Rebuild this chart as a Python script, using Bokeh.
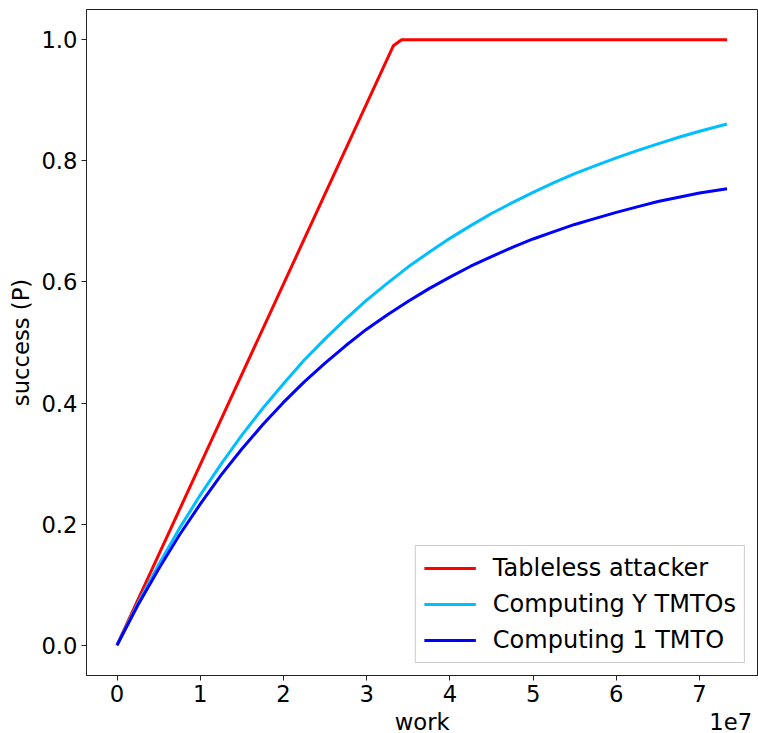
from bokeh.plotting import figure
from bokeh.models import Range1d, FixedTicker, NumeralTickFormatter
from bokeh.embed import file_html
from bokeh.resources import INLINE

# ---- data ----
red_work = [0.0, 3.32e7, 3.42e7, 7.33e7]
red_success = [0.0, 0.99, 1.0, 1.0]

curve_work = [0.0, 0.25e7, 0.5e7, 0.75e7, 1.0e7, 1.25e7, 1.5e7, 1.75e7, 2.0e7,
              2.25e7, 2.5e7, 2.75e7, 3.0e7, 3.25e7, 3.5e7, 3.75e7, 4.0e7,
              4.25e7, 4.5e7, 4.75e7, 5.0e7, 5.25e7, 5.5e7, 5.75e7, 6.0e7,
              6.25e7, 6.5e7, 6.75e7, 7.0e7, 7.33e7]
cyan_success = [0.0, 0.069, 0.133, 0.193, 0.248, 0.299, 0.347, 0.391, 0.432,
                0.471, 0.506, 0.539, 0.570, 0.598, 0.625, 0.649, 0.672,
                0.693, 0.713, 0.731, 0.748, 0.764, 0.779, 0.792, 0.805,
                0.817, 0.828, 0.839, 0.849, 0.861]
blue_success = [0.0, 0.066, 0.126, 0.182, 0.233, 0.281, 0.324, 0.364, 0.401,
                0.435, 0.466, 0.495, 0.522, 0.546, 0.568, 0.589, 0.608,
                0.626, 0.642, 0.657, 0.671, 0.683, 0.695, 0.705, 0.715,
                0.724, 0.733, 0.740, 0.747, 0.754]

series_names = ["Tableless attacker", "Computing Y TMTOs", "Computing 1 TMTO"]
x_tick_values = [0, 1e7, 2e7, 3e7, 4e7, 5e7, 6e7, 7e7]
x_tick_labels = ["0", "1", "2", "3", "4", "5", "6", "7"]
y_tick_values = [0.0, 0.2, 0.4, 0.6, 0.8, 1.0]
x_label = "work"
x_offset_text = "1e7"
y_label = "success (P)"

FONT = "DejaVu Sans"
FS = "22.7px"
LEG_FS = "24px"
FRAME_W = 671
FRAME_H = 666

p = figure(frame_width=FRAME_W, frame_height=FRAME_H, output_backend="svg",
           toolbar_location=None,
           x_range=Range1d(-0.3665e7, 7.6965e7), y_range=Range1d(-0.05, 1.05),
           min_border_left=86, min_border_right=1, min_border_top=9,
           min_border_bottom=58)

p.line(red_work, red_success, color="#ff0000", line_width=3, legend_label=series_names[0])
p.line(curve_work, cyan_success, color="#00bfff", line_width=3, legend_label=series_names[1])
p.line(curve_work, blue_success, color="#0000ff", line_width=3, legend_label=series_names[2])

p.xgrid.visible = False
p.ygrid.visible = False
p.outline_line_color = "#222222"
p.outline_line_width = 1

p.xaxis.ticker = FixedTicker(ticks=x_tick_values)
p.xaxis.major_label_overrides = {v: l for v, l in zip(x_tick_values, x_tick_labels)}
p.yaxis.ticker = FixedTicker(ticks=y_tick_values)
p.yaxis.formatter = NumeralTickFormatter(format="0.0")

for ax in (p.xaxis[0], p.yaxis[0]):
    ax.major_tick_in = 0
    ax.major_tick_out = 5
    ax.minor_tick_out = 0
    ax.minor_tick_in = 0
    ax.axis_line_color = "#222222"
    ax.major_tick_line_color = "#222222"
    ax.major_label_text_font = FONT
    ax.major_label_text_font_size = FS
    ax.major_label_text_color = "#000000"
    ax.axis_label_text_font = FONT
    ax.axis_label_text_font_size = FS
    ax.axis_label_text_font_style = "normal"
    ax.axis_label_text_color = "#000000"
    ax.major_label_standoff = 4
    ax.axis_label_standoff = 4

# x label: "work" centred under the frame, with the scale factor "1e7"
# right-aligned on the same line (non-breaking spaces keep "work" centred)
NB = "\u00a0"
p.xaxis.axis_label = NB * 42 + x_label + NB * 36 + x_offset_text
p.yaxis.axis_label = y_label

lg = p.legend[0]
lg.location = "bottom_right"
lg.margin = 12
lg.padding = 8
lg.spacing = 8
lg.label_text_font = FONT
lg.label_text_font_size = LEG_FS
lg.label_text_color = "#000000"
lg.glyph_width = 52
lg.glyph_height = 28
lg.label_height = 28
lg.label_standoff = 17
lg.border_line_color = "#cccccc"
lg.border_line_alpha = 1.0
lg.background_fill_alpha = 0.8

open("out.html", "w").write(file_html(p, INLINE))
